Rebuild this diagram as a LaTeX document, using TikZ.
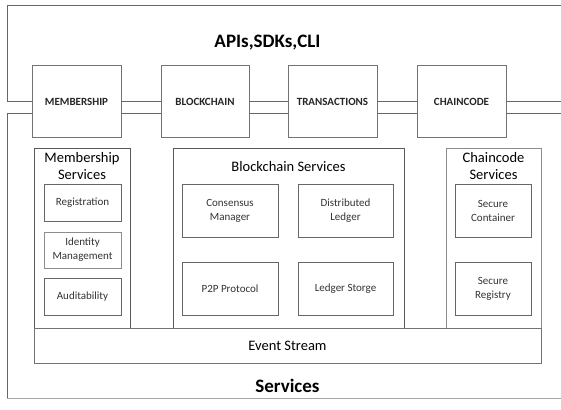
\documentclass[tikz,border=0pt]{standalone}
\usepackage{fontspec}
\setmainfont{Carlito}
\usetikzlibrary{calc}
\begin{document}
\begin{tikzpicture}[x=1pt,y=-1pt,
  frame/.style={draw=black!60, line width=1pt},
  topbox/.style={draw=black!55, line width=1pt, fill=white, inner sep=0pt,
    minimum height=71pt, font=\bfseries\fontsize{11}{12}\selectfont, text=black!85},
  cont/.style={draw=black!65, line width=0.9pt, inner sep=0pt, minimum height=180pt},
  inbox/.style={draw=black!60, line width=1pt, inner sep=0pt, align=center,
    font=\fontsize{11}{14}\selectfont, text=black!80,
    append after command={\pgfextra{\draw[black!80, line width=1.3pt]
      (\tikzlastnode.south west) -- (\tikzlastnode.south east) -- (\tikzlastnode.north east);}}},
  ctitle/.style={align=center, font=\fontsize{14.5}{17}\selectfont, inner sep=0pt},
  bigtitle/.style={font=\bfseries\fontsize{19}{22}\selectfont, inner sep=0pt}]
\useasboundingbox (0,0) rectangle (561,409);
\fill[white] (0,0) rectangle (561,409);

% frame coordinates
\coordinate (tl) at (7,6);
\coordinate (tr) at (561,6);
\coordinate (bl) at (7,398);
\coordinate (br) at (561,398);
\coordinate (lin) at (7,101.5);
\coordinate (lin2) at (7,113.5);
\coordinate (rin) at (561,101.5);
\coordinate (rin2) at (561,113.5);

% top boxes
\node[topbox, minimum width=89pt] (mem) at (76.5,101.5) {MEMBERSHIP};
\node[topbox, minimum width=88pt] (blk) at (205,101.5) {BLOCKCHAIN};
\node[topbox, minimum width=89pt] (trn) at (332.5,101.5) {TRANSACTIONS};
\node[topbox, minimum width=89pt] (chc) at (461.5,101.5) {CHAINCODE};

% frame and double lines
\draw[frame] (tr) -- (tl) -- (lin) -- (mem.west);
\draw[frame] (mem.east) -- (blk.west);
\draw[frame] (blk.east) -- (trn.west);
\draw[frame] (trn.east) -- (chc.west);
\draw[frame] (chc.east) -- (rin);
\draw[frame] ($(mem.west)+(0,12)$) -- (lin2) -- (bl);
\draw[frame] ($(mem.east)+(0,12)$) -- ($(blk.west)+(0,12)$);
\draw[frame] ($(blk.east)+(0,12)$) -- ($(trn.west)+(0,12)$);
\draw[frame] ($(trn.east)+(0,12)$) -- ($(chc.west)+(0,12)$);
\draw[frame] ($(chc.east)+(0,12)$) -- (rin2);
\draw[draw=black!35, line width=1pt] (bl) -- (br);

\node[bigtitle] (api) at (267.5,43) {APIs,SDKs,CLI};

% containers
\node[cont, minimum width=96pt] (msc) at (82,238) {};
\node[cont, minimum width=231pt] (bsc) at (288.5,238) {};
\node[cont, draw=black!45, minimum width=95pt] (csc) at (493.5,238) {};
\node[draw=black!55, line width=0.9pt, inner sep=0pt, minimum width=507pt, minimum height=35pt,
  font=\fontsize{14.5}{17}\selectfont] (evt) at (287.5,345.5) {Event Stream};

\node[ctitle] (mst) at (82,166.5) {Membership\\Services};
\node[ctitle] (bst) at (288.5,166.5) {Blockchain Services};
\node[ctitle] (cst) at (493.5,166.5) {Chaincode\\Services};

% inner boxes
\node[inbox, minimum width=77pt, minimum height=37pt] (reg) at (82.5,202.5) {Registration};
\node[inbox, draw=black!45, minimum width=77pt, minimum height=36pt] (idm) at (82.5,250) {Identity\\Management};
\node[inbox, minimum width=77pt, minimum height=37pt] (aud) at (82.5,296.5) {Auditability};
\node[inbox, minimum width=96pt, minimum height=53pt] (con) at (230,210.5) {Consensus\\Manager};
\node[inbox, minimum width=96pt, minimum height=53pt] (p2p) at (230,288.5) {P2P Protocol};
\node[inbox, minimum width=95pt, minimum height=53pt] (dis) at (345.5,210.5) {Distributed\\Ledger};
\node[inbox, minimum width=95pt, minimum height=53pt] (lst) at (345.5,288.5) {Ledger Storge};
\node[inbox, minimum width=76pt, minimum height=53pt] (sco) at (493,210.5) {Secure\\Container};
\node[inbox, minimum width=76pt, minimum height=53pt] (sre) at (493,288.5) {Secure\\Registry};

\node[bigtitle] (srv) at (287.5,386) {Services};
\end{tikzpicture}
\end{document}
